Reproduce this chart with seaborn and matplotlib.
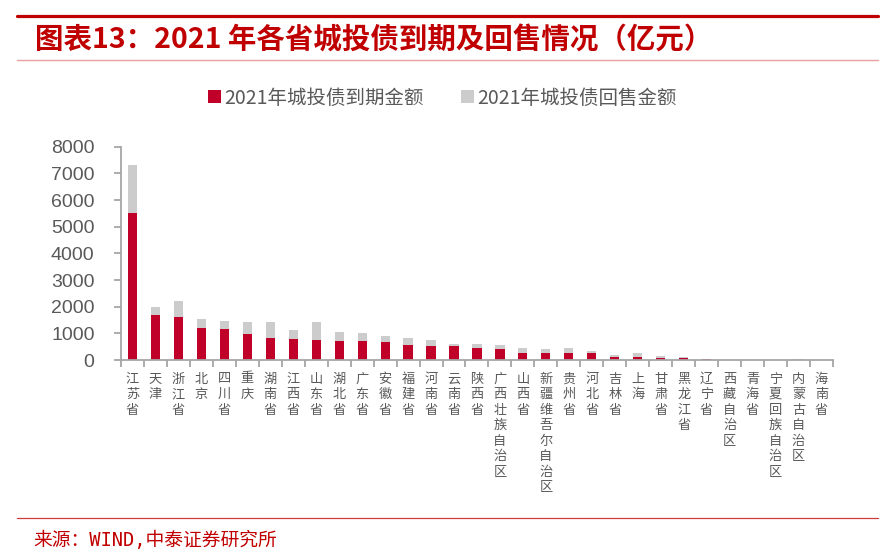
import matplotlib
matplotlib.use("Agg")
import matplotlib.pyplot as plt
import seaborn as sns
import pandas as pd
import numpy as np
from matplotlib.lines import Line2D
from matplotlib.patches import Patch

# ---------------- data ----------------
provinces = ["江苏省", "天津", "浙江省", "北京", "四川省", "重庆", "湖南省", "江西省",
             "山东省", "湖北省", "广东省", "安徽省", "福建省", "河南省", "云南省", "陕西省",
             "广西壮族自治区", "山西省", "新疆维吾尔自治区", "贵州省", "河北省", "吉林省",
             "上海", "甘肃省", "黑龙江省", "辽宁省", "西藏自治区", "青海省",
             "宁夏回族自治区", "内蒙古自治区", "海南省"]
maturity = [5525, 1690, 1610, 1200, 1165, 975, 815, 790, 765, 715, 715, 665, 565, 515,
            510, 440, 400, 275, 265, 265, 250, 130, 130, 80, 60, 20, 5, 5, 5, 0, 0]
putback = [1790, 285, 590, 340, 300, 450, 600, 350, 660, 335, 285, 235, 260, 235,
           90, 160, 165, 165, 135, 175, 90, 60, 140, 75, 60, 25, 5, 0, 5, 40, 0]
series_names = ["2021年城投债到期金额", "2021年城投债回售金额"]
yticks = [0, 1000, 2000, 3000, 4000, 5000, 6000, 7000, 8000]
title = "图表13：2021 年各省城投债到期及回售情况（亿元）"
source = "来源：WIND,中泰证券研究所"

RED = "#C00028"
GRAY = "#CCCCCC"
TXT = "#595959"
AX = "#A6A6A6"

df = pd.DataFrame({"prov": provinces, "mat": maturity, "put": putback})
df["total"] = df["mat"] + df["put"]

sns.set_style("white")
plt.rcParams["font.family"] = ["Noto Sans CJK SC", "DejaVu Sans"]

fig = plt.figure(figsize=(8.85, 5.58), dpi=100)
ax = fig.add_axes([0.1367, 0.3548, 0.8045, 0.3823])

sns.barplot(data=df, x="prov", y="total", color=GRAY, width=0.4, ax=ax,
            saturation=1, linewidth=0, order=provinces)
sns.barplot(data=df, x="prov", y="mat", color=RED, width=0.4, ax=ax,
            saturation=1, linewidth=0, order=provinces)

n = len(provinces)
ax.set_xlim(-0.5, n - 0.5)
ax.set_ylim(0, 8000)
ax.set_xlabel("")
ax.set_ylabel("")

# y axis
ax.set_yticks(yticks)
ax.set_yticklabels([str(v) for v in yticks], family=["Liberation Sans"], fontsize=14, color=TXT)
ax.tick_params(axis="y", which="major", direction="out", length=5, width=1.3,
               color=AX, pad=14, left=True)

# x axis: labels at centers (no tick), tick marks at boundaries
ax.set_xticks(np.arange(n))
ax.set_xticklabels(["\n".join(p) for p in provinces], fontsize=9.5, color=TXT,
                   linespacing=1.25, va="top")
ax.tick_params(axis="x", which="major", length=0, pad=9)
ax.set_xticks(np.arange(n + 1) - 0.5, minor=True)
ax.tick_params(axis="x", which="minor", direction="out", length=5, width=1.3,
               color=AX, bottom=True)

for s in ["top", "right"]:
    ax.spines[s].set_visible(False)
for s in ["left", "bottom"]:
    ax.spines[s].set_color(AX)
    ax.spines[s].set_linewidth(1.3)

# legend
handles = [Patch(facecolor=RED, edgecolor="none"), Patch(facecolor=GRAY, edgecolor="none")]
leg = fig.legend(handles, series_names, loc="center", bbox_to_anchor=(0.5, 0.8244),
                 ncol=2, frameon=False, fontsize=14, handlelength=0.65, handleheight=0.65,
                 handletextpad=0.2, columnspacing=1.9, labelcolor=TXT)

# decorations
fig.add_artist(Line2D([0.0192, 0.992], [0.9722, 0.9722], color="#C00000", lw=2.3,
                      transform=fig.transFigure))
fig.add_artist(Line2D([0.0192, 0.992], [0.8925, 0.8925], color="#E8A0A0", lw=1.0,
                      transform=fig.transFigure))
fig.add_artist(Line2D([0.0192, 0.992], [0.0717, 0.0717], color="#D03A3A", lw=0.9,
                      transform=fig.transFigure))
fig.text(0.0395, 0.928, title, fontsize=20.5, fontweight="bold", style="italic",
         color="#C00000", va="center", ha="left")
fig.text(0.0373, 0.0323, source, fontsize=13.5, color="#C00000", va="center", ha="left",
         family=["DejaVu Sans Mono", "Noto Sans CJK SC"])

fig.savefig("out.png", dpi=100)
